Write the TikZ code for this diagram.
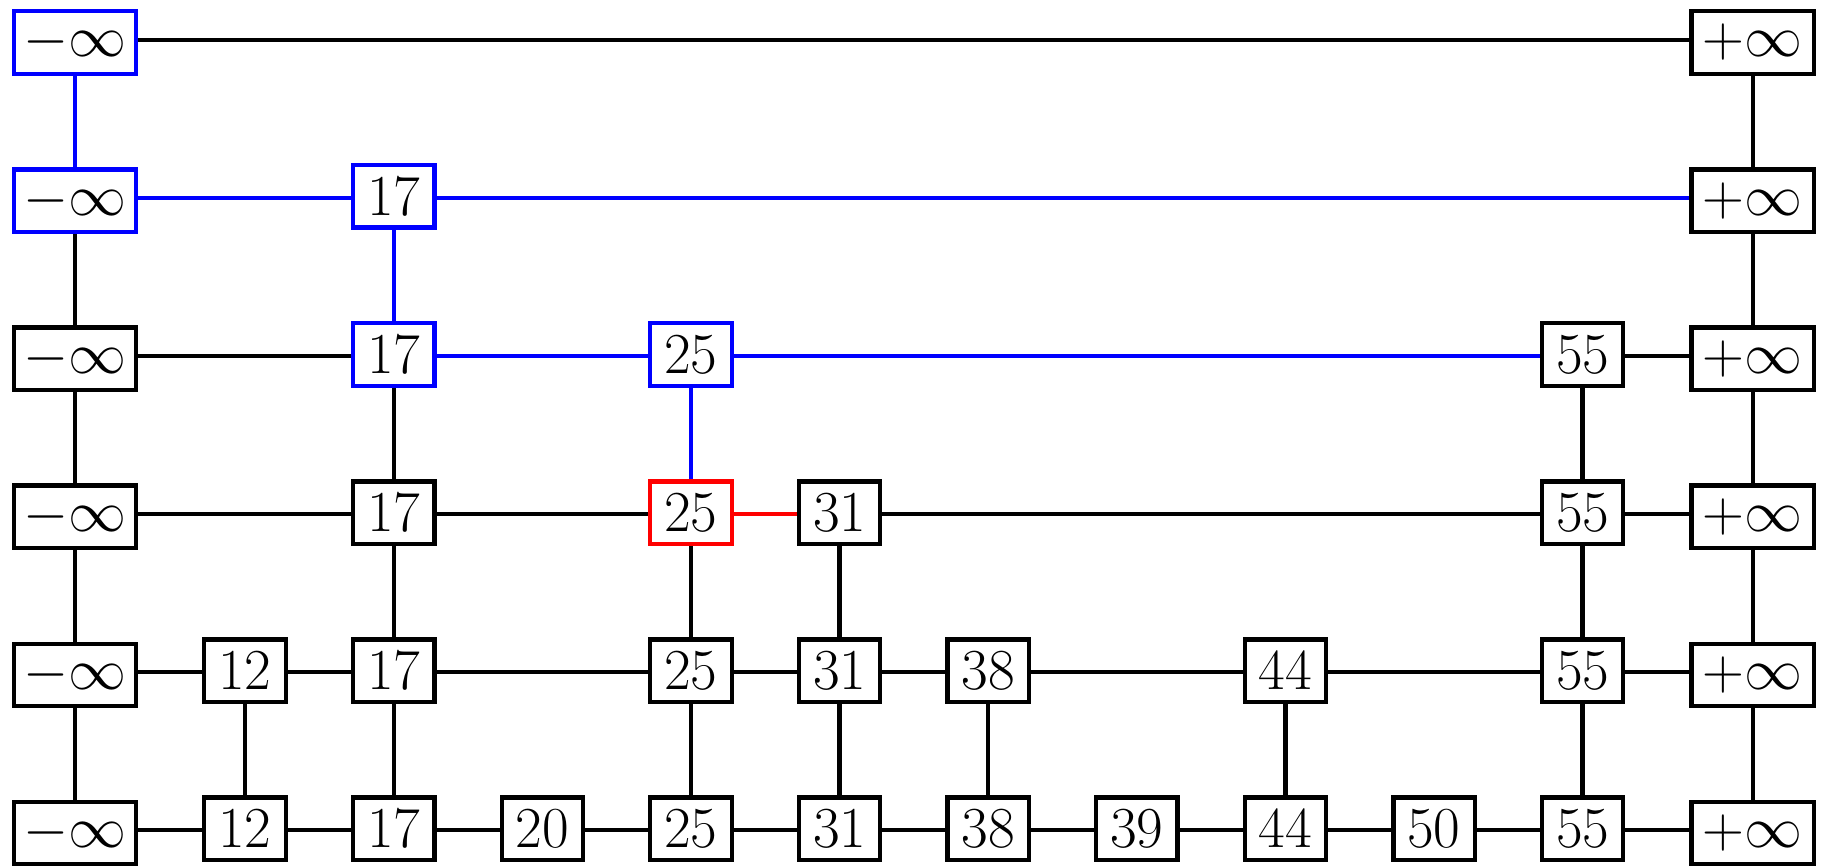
\documentclass[tikz,border=0pt]{standalone}
\usetikzlibrary{backgrounds}
\tikzset{
  nd/.style={draw, line width=1.85pt, fill=white, inner sep=0pt, minimum width=34.9pt,
    minimum height=26.8pt, anchor=base, font=\Huge},
  infbox/.style={nd, minimum width=52.5pt},
  lk/.style={line width=1.85pt},
}
\newcommand\hlink[3][black]{\draw[lk,#1] ([yshift=7.38pt]#2.base east) -- ([yshift=7.38pt]#3.base west);}
\newcommand\vlink[3][black]{\draw[lk,#1] (#2.south) -- (#3.north);}
\begin{document}
\begin{tikzpicture}[x=0.429pt,y=-0.429pt]
\useasboundingbox (0,0) rectangle (1829,867);
% row 1
\node[infbox,draw=blue] (m1) at (75,57) {$-\infty$};
\node[infbox] (p1) at (1752.8,57) {$+\infty$};
% row 2
\node[infbox,draw=blue] (m2) at (75,215.1) {$-\infty$};
\node[nd,draw=blue] (a17r2) at (393.8,215.1) {$17$};
\node[infbox] (p2) at (1752.8,215.1) {$+\infty$};
% row 3
\node[infbox] (m3) at (75,373.2) {$-\infty$};
\node[nd,draw=blue] (a17r3) at (393.8,373.2) {$17$};
\node[nd,draw=blue] (a25r3) at (691,373.2) {$25$};
\node[nd] (a55r3) at (1582.6,373.2) {$55$};
\node[infbox] (p3) at (1752.8,373.2) {$+\infty$};
% row 4
\node[infbox] (m4) at (75,531.3) {$-\infty$};
\node[nd] (a17r4) at (393.8,531.3) {$17$};
\node[nd,draw=red] (a25r4) at (691,531.3) {$25$};
\node[nd] (a31r4) at (839.6,531.3) {$31$};
\node[nd] (a55r4) at (1582.6,531.3) {$55$};
\node[infbox] (p4) at (1752.8,531.3) {$+\infty$};
% row 5
\node[infbox] (m5) at (75,689.4) {$-\infty$};
\node[nd] (a12r5) at (245,689.4) {$12$};
\node[nd] (a17r5) at (393.8,689.4) {$17$};
\node[nd] (a25r5) at (691,689.4) {$25$};
\node[nd] (a31r5) at (839.6,689.4) {$31$};
\node[nd] (a38r5) at (988.2,689.4) {$38$};
\node[nd] (a44r5) at (1285.4,689.4) {$44$};
\node[nd] (a55r5) at (1582.6,689.4) {$55$};
\node[infbox] (p5) at (1752.8,689.4) {$+\infty$};
% row 6
\node[infbox] (m6) at (75,847.5) {$-\infty$};
\node[nd] (a12r6) at (245,847.5) {$12$};
\node[nd] (a17r6) at (393.8,847.5) {$17$};
\node[nd] (a20r6) at (542.4,847.5) {$20$};
\node[nd] (a25r6) at (691,847.5) {$25$};
\node[nd] (a31r6) at (839.6,847.5) {$31$};
\node[nd] (a38r6) at (988.2,847.5) {$38$};
\node[nd] (a39r6) at (1136.8,847.5) {$39$};
\node[nd] (a44r6) at (1285.4,847.5) {$44$};
\node[nd] (a50r6) at (1434,847.5) {$50$};
\node[nd] (a55r6) at (1582.6,847.5) {$55$};
\node[infbox] (p6) at (1752.8,847.5) {$+\infty$};
\begin{scope}[on background layer]
% horizontal
\hlink{m1}{p1}
\hlink[blue]{m2}{a17r2}
\hlink[blue]{a17r2}{p2}
\hlink{m3}{a17r3}
\hlink[blue]{a17r3}{a25r3}
\hlink[blue]{a25r3}{a55r3}
\hlink{a55r3}{p3}
\hlink{m4}{a17r4}
\hlink{a17r4}{a25r4}
\hlink[red]{a25r4}{a31r4}
\hlink{a31r4}{a55r4}
\hlink{a55r4}{p4}
\hlink{m5}{a12r5}
\hlink{a12r5}{a17r5}
\hlink{a17r5}{a25r5}
\hlink{a25r5}{a31r5}
\hlink{a31r5}{a38r5}
\hlink{a38r5}{a44r5}
\hlink{a44r5}{a55r5}
\hlink{a55r5}{p5}
\hlink{m6}{a12r6}
\hlink{a12r6}{a17r6}
\hlink{a17r6}{a20r6}
\hlink{a20r6}{a25r6}
\hlink{a25r6}{a31r6}
\hlink{a31r6}{a38r6}
\hlink{a38r6}{a39r6}
\hlink{a39r6}{a44r6}
\hlink{a44r6}{a50r6}
\hlink{a50r6}{a55r6}
\hlink{a55r6}{p6}
% vertical
\vlink[blue]{m1}{m2}
\vlink{m2}{m3}
\vlink{m3}{m4}
\vlink{m4}{m5}
\vlink{m5}{m6}
\vlink{p1}{p2}
\vlink{p2}{p3}
\vlink{p3}{p4}
\vlink{p4}{p5}
\vlink{p5}{p6}
\vlink[blue]{a17r2}{a17r3}
\vlink{a17r3}{a17r4}
\vlink{a17r4}{a17r5}
\vlink{a17r5}{a17r6}
\vlink[blue]{a25r3}{a25r4}
\vlink{a25r4}{a25r5}
\vlink{a25r5}{a25r6}
\vlink{a31r4}{a31r5}
\vlink{a31r5}{a31r6}
\vlink{a55r3}{a55r4}
\vlink{a55r4}{a55r5}
\vlink{a55r5}{a55r6}
\vlink{a12r5}{a12r6}
\vlink{a38r5}{a38r6}
\vlink{a44r5}{a44r6}
\end{scope}
\end{tikzpicture}
\end{document}
